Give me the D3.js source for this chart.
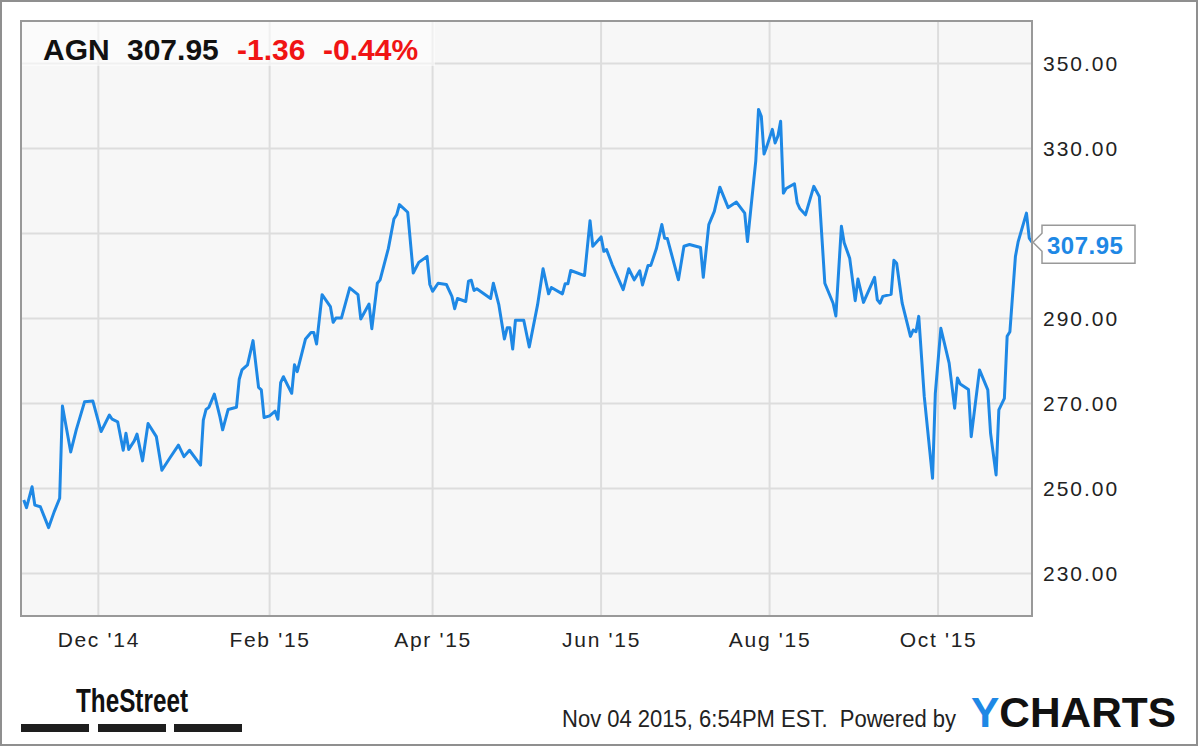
<!DOCTYPE html>
<html>
<head>
<meta charset="utf-8">
<script src="https://cdn.jsdelivr.net/npm/d3@7"></script>
<style>
body { margin: 0; background: #fff; }
svg { display: block; font-family: "Liberation Sans", Arial, sans-serif; }
</style>
</head>
<body>
<svg id="chart" width="1200" height="747"></svg>
<script>
var ticker = "AGN";
var lastPrice = 307.95;
var change = -1.36;
var pctChange = -0.44;
var stamp = "Nov 04 2015, 6:54PM EST.  Powered by";

var dates = [
    "2014-11-04","2014-11-05","2014-11-07","2014-11-08","2014-11-10","2014-11-13","2014-11-15","2014-11-17","2014-11-18","2014-11-21","2014-11-23","2014-11-26","2014-11-29",
    "2014-12-02","2014-12-05","2014-12-06","2014-12-08","2014-12-10","2014-12-11","2014-12-12","2014-12-14","2014-12-15","2014-12-17","2014-12-19","2014-12-22","2014-12-24","2014-12-27","2014-12-30",
    "2015-01-01","2015-01-03","2015-01-07","2015-01-08","2015-01-09","2015-01-10","2015-01-12","2015-01-14","2015-01-15","2015-01-17","2015-01-20","2015-01-21","2015-01-22","2015-01-24","2015-01-26","2015-01-28","2015-01-29","2015-01-30",
    "2015-02-01","2015-02-03","2015-02-04","2015-02-05","2015-02-06","2015-02-09","2015-02-10","2015-02-11","2015-02-14","2015-02-16","2015-02-17","2015-02-18","2015-02-20","2015-02-23","2015-02-24","2015-02-25","2015-02-27",
    "2015-03-02","2015-03-05","2015-03-06","2015-03-09","2015-03-10","2015-03-12","2015-03-13","2015-03-16","2015-03-18","2015-03-19","2015-03-20","2015-03-23","2015-03-25","2015-03-27","2015-03-30","2015-03-31",
    "2015-04-01","2015-04-03","2015-04-06","2015-04-08","2015-04-09","2015-04-10","2015-04-13","2015-04-14","2015-04-15","2015-04-16","2015-04-17","2015-04-22","2015-04-23","2015-04-25","2015-04-27","2015-04-28","2015-04-29","2015-04-30",
    "2015-05-01","2015-05-04","2015-05-06","2015-05-09","2015-05-11","2015-05-13","2015-05-14","2015-05-18","2015-05-19","2015-05-20","2015-05-21","2015-05-26","2015-05-28","2015-05-29",
    "2015-06-01","2015-06-02","2015-06-03","2015-06-05","2015-06-09","2015-06-11","2015-06-13","2015-06-15","2015-06-16","2015-06-18","2015-06-19","2015-06-21","2015-06-23","2015-06-24","2015-06-25","2015-06-29",
    "2015-07-01","2015-07-03","2015-07-07","2015-07-08","2015-07-10","2015-07-12","2015-07-14","2015-07-17","2015-07-20","2015-07-23","2015-07-24","2015-07-27","2015-07-28","2015-07-29","2015-07-30","2015-07-31",
    "2015-08-02","2015-08-03","2015-08-04","2015-08-05","2015-08-06","2015-08-07","2015-08-10","2015-08-11","2015-08-12","2015-08-14","2015-08-17","2015-08-19","2015-08-21","2015-08-24","2015-08-25","2015-08-27","2015-08-28","2015-08-30",
    "2015-09-01","2015-09-02","2015-09-04","2015-09-08","2015-09-09","2015-09-10","2015-09-11","2015-09-14","2015-09-15","2015-09-16","2015-09-18","2015-09-21","2015-09-22","2015-09-23","2015-09-24","2015-09-26","2015-09-29","2015-09-30",
    "2015-10-02","2015-10-05","2015-10-07","2015-10-08","2015-10-09","2015-10-12","2015-10-13","2015-10-16","2015-10-19","2015-10-20","2015-10-22","2015-10-23","2015-10-25","2015-10-26","2015-10-27","2015-10-29","2015-10-30",
    "2015-11-02","2015-11-03","2015-11-04"
];

var prices = [
    247.3, 245.5, 250.4, 246.1, 245.7, 240.8, 244.5, 247.7, 269.4, 258.6, 263.8, 270.4, 270.6,
    263.4, 267.3, 266.3, 265.7, 259.0, 263.0, 259.2, 261.2, 262.8, 256.5, 265.3, 262.2, 254.3, 257.3, 260.2,
    257.5, 259.0, 255.5, 266.1, 268.6, 269.1, 272.2, 266.9, 263.8, 268.6, 269.1, 275.7, 277.9, 279.1, 284.8, 273.8, 273.2, 266.7,
    267.1, 268.2, 266.3, 274.9, 276.3, 272.4, 279.1, 277.5, 285.2, 286.7, 286.7, 284.0, 295.6, 292.8, 289.1, 290.1, 290.1,
    297.2, 295.6, 289.9, 293.4, 287.6, 298.3, 299.1, 306.5, 313.4, 314.4, 316.8, 315.0, 300.7, 303.2, 304.6, 298.0,
    296.4, 298.3, 298.0, 295.2, 292.3, 294.7, 294.0, 298.8, 299.0, 296.6, 297.0, 294.7, 298.3, 293.2, 285.2, 287.8, 287.8, 282.8,
    289.6, 289.6, 283.3, 293.2, 301.7, 295.8, 297.3, 295.8, 298.2, 298.2, 301.3, 300.1, 313.0, 307.0,
    309.2, 305.8, 306.2, 302.7, 296.8, 301.7, 299.1, 301.2, 297.9, 302.5, 302.5, 306.4, 312.1, 308.9, 308.8, 299.1,
    307.0, 307.4, 306.7, 299.7, 312.1, 315.2, 320.9, 316.1, 317.4, 314.8, 308.1, 327.1, 339.2, 337.6, 328.7, 330.5,
    334.5, 331.3, 332.9, 336.4, 319.5, 320.6, 321.7, 317.2, 315.8, 314.4, 321.1, 318.7, 298.3, 293.6, 290.6, 311.7, 307.8, 304.2,
    294.2, 299.3, 293.8, 299.7, 294.4, 293.6, 295.2, 295.7, 303.7, 303.0, 293.6, 285.8, 287.3, 286.9, 290.5, 271.6, 252.4, 272.4,
    287.7, 279.5, 268.9, 276.0, 274.6, 273.3, 262.2, 277.9, 273.2, 263.0, 253.2, 268.5, 271.2, 285.8, 286.9, 304.6, 308.1,
    314.8, 308.9, 307.95
];

var yTicks = [230, 250, 270, 290, 310, 330, 350];
var xTicks = ["2014-12-01", "2015-02-01", "2015-04-01", "2015-06-01", "2015-08-01", "2015-10-01"];

var plot = {left: 21, top: 21, right: 1032, bottom: 616};
var lineColor = "#1e88e5";

var parseDate = d3.utcParse("%Y-%m-%d");
var formatTick = d3.utcFormat("%b '%y");

var data = dates.map(function(d, i) {
    return {date: parseDate(d), value: prices[i]};
});

var x = d3.scaleUtc()
    .domain([parseDate("2014-11-03"), parseDate("2015-11-04")])
    .range([plot.left, plot.right]);
var y = d3.scaleLinear()
    .domain([220, 360])
    .range([plot.bottom, plot.top]);

var svg = d3.select("#chart");

// frame + plot background
svg.append("rect")
    .attr("x", 1).attr("y", 1)
    .attr("width", 1196).attr("height", 744)
    .attr("fill", "#fff")
    .attr("stroke", "#8f8f8f")
    .attr("stroke-width", 2);

svg.append("rect")
    .attr("x", plot.left).attr("y", plot.top)
    .attr("width", plot.right - plot.left)
    .attr("height", plot.bottom - plot.top)
    .attr("fill", "#f7f7f7");

// grid
svg.append("g").selectAll("line")
    .data(yTicks)
    .enter().append("line")
    .attr("x1", plot.left).attr("x2", plot.right)
    .attr("y1", function(d) { return y(d); })
    .attr("y2", function(d) { return y(d); })
    .attr("stroke", "#dddddd")
    .attr("stroke-width", 2);

svg.append("g").selectAll("line")
    .data(xTicks)
    .enter().append("line")
    .attr("x1", function(d) { return x(parseDate(d)); })
    .attr("x2", function(d) { return x(parseDate(d)); })
    .attr("y1", plot.top).attr("y2", plot.bottom)
    .attr("stroke", "#dddddd")
    .attr("stroke-width", 2);

// header box
svg.append("rect")
    .attr("x", plot.left).attr("y", plot.top)
    .attr("width", 414).attr("height", 45)
    .attr("fill", "#fff")
    .attr("opacity", 0.55);

var line = d3.line()
    .x(function(d) { return x(d.date); })
    .y(function(d) { return y(d.value); });

svg.append("path")
    .datum(data)
    .attr("d", line)
    .attr("fill", "none")
    .attr("stroke", lineColor)
    .attr("stroke-width", 3)
    .attr("stroke-linejoin", "round");

svg.append("rect")
    .attr("x", plot.left).attr("y", plot.top)
    .attr("width", plot.right - plot.left)
    .attr("height", plot.bottom - plot.top)
    .attr("fill", "none")
    .attr("stroke", "#999")
    .attr("stroke-width", 2);

// header text
var head = svg.append("g")
    .attr("font-size", 30)
    .attr("font-weight", "bold");
head.append("text").attr("x", 43).attr("y", 60).attr("fill", "#111").text(ticker);
head.append("text").attr("x", 127).attr("y", 60).attr("fill", "#111").text(lastPrice.toFixed(2));
head.append("text").attr("x", 237).attr("y", 60).attr("fill", "#f01414").text(change.toFixed(2));
head.append("text").attr("x", 323).attr("y", 60).attr("fill", "#f01414").text(pctChange.toFixed(2) + "%");

// axes
var yAxis = d3.axisRight(y)
    .tickValues(yTicks)
    .tickFormat(d3.format(".2f"))
    .tickSize(0)
    .tickPadding(11);
var gy = svg.append("g")
    .attr("transform", "translate(" + plot.right + ",0)")
    .call(yAxis);
gy.select(".domain").remove();
gy.selectAll("text")
    .attr("font-size", 21)
    .attr("font-family", "Liberation Sans, Arial, sans-serif")
    .attr("letter-spacing", 2)
    .attr("fill", "#222");

var xAxis = d3.axisBottom(x)
    .tickValues(xTicks.map(parseDate))
    .tickFormat(formatTick)
    .tickSize(0)
    .tickPadding(16);
var gx = svg.append("g")
    .attr("transform", "translate(0," + plot.bottom + ")")
    .call(xAxis);
gx.select(".domain").remove();
gx.selectAll("text")
    .attr("font-size", 21)
    .attr("font-family", "Liberation Sans, Arial, sans-serif")
    .attr("letter-spacing", 1.7)
    .attr("fill", "#222");

// last value flag (covers the 310.00 label as in the source)
var ly = y(lastPrice);
svg.append("path")
    .attr("d", "M" + (plot.right + 1) + "," + ly +
        "L1042," + (ly - 9) + "L1042," + (ly - 17) + "L1135," + (ly - 17) +
        "L1135," + (ly + 21) + "L1042," + (ly + 21) + "L1042," + (ly + 9) + "Z")
    .attr("fill", "#fff")
    .attr("stroke", "#999")
    .attr("stroke-width", 1.5);
svg.append("text")
    .attr("x", 1047).attr("y", ly + 12)
    .attr("font-size", 24)
    .attr("font-weight", "bold")
    .attr("letter-spacing", 0.5)
    .attr("fill", lineColor)
    .text(lastPrice.toFixed(2));

// footer
svg.append("text")
    .attr("x", 76).attr("y", 712)
    .attr("font-size", 33)
    .attr("font-weight", "bold")
    .attr("textLength", 112)
    .attr("lengthAdjust", "spacingAndGlyphs")
    .attr("fill", "#111")
    .text("TheStreet");

svg.append("g").selectAll("rect")
    .data([[21, 89], [98, 166], [174, 242]])
    .enter().append("rect")
    .attr("x", function(d) { return d[0]; })
    .attr("width", function(d) { return d[1] - d[0]; })
    .attr("y", 724).attr("height", 8)
    .attr("fill", "#1e1e1e");

svg.append("text")
    .attr("x", 562).attr("y", 727)
    .attr("font-size", 23)
    .attr("textLength", 394)
    .attr("lengthAdjust", "spacingAndGlyphs")
    .style("white-space", "pre")
    .attr("fill", "#222")
    .text(stamp);

var yc = svg.append("text")
    .attr("x", 971).attr("y", 727)
    .attr("font-size", 42)
    .attr("font-weight", "bold")
    .attr("textLength", 205)
    .attr("lengthAdjust", "spacingAndGlyphs");
yc.append("tspan").attr("fill", lineColor).text("Y");
yc.append("tspan").attr("fill", "#111").text("CHARTS");
</script>
</body>
</html>
